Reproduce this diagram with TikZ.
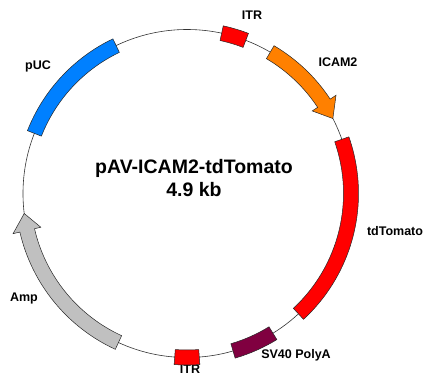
\documentclass[tikz,border=0pt]{standalone}
\usepackage{fontspec}
\setmainfont{Liberation Sans}
\usetikzlibrary{positioning, calc}
\definecolor{itrred}{HTML}{FF0000}
\definecolor{icamorange}{HTML}{FF8000}
\definecolor{tomatored}{HTML}{FF0000}
\definecolor{polyapurple}{HTML}{800040}
\definecolor{pucblue}{HTML}{0080FF}
\definecolor{ampgray}{HTML}{C0C0C0}

% radii of the map (in bp)
\newcommand{\rmid}{164}
\newcommand{\rin}{156.5}
\newcommand{\rout}{171.5}
\newcommand{\rhin}{150}
\newcommand{\rhout}{178.5}

% plain band: colour, start angle, end angle
\newcommand{\featbox}[3]{%
  \filldraw[feature, fill=#1] (#2:\rin) arc[start angle=#2, end angle=#3, radius=\rin]
    -- (#3:\rout) arc[start angle=#3, end angle=#2, radius=\rout] -- cycle;}
% arrow band: colour, start angle, tip angle, head length (deg)
\newcommand{\featarrow}[4]{%
  \filldraw[feature, fill=#1] (#2:\rin) arc[start angle=#2, end angle={#3+#4}, radius=\rin]
    -- ({#3+#4}:\rhin) -- (#3:\rmid) -- ({#3+#4}:\rhout) -- ({#3+#4}:\rout)
    arc[start angle={#3+#4}, end angle=#2, radius=\rout] -- cycle;}

\begin{document}
\begin{tikzpicture}[
    x=1bp, y=1bp,
    every node/.style={font=\bfseries\fontsize{12.5bp}{14bp}\selectfont},
    title/.style={font=\bfseries\fontsize{19.5bp}{23bp}\selectfont, align=center},
    feature/.style={draw=black!85, line width=0.5pt},
    backbone/.style={draw=black!80, line width=0.6pt},
  ]
  \useasboundingbox (-187,-190.5) rectangle (247,193.5);

  % backbone
  \draw[backbone] (0,0) circle[radius=\rmid];

  % labels
  \node (itrtop) at (65,178.5) {ITR};
  \node (icam) at (151,131.5) {ICAM2};
  \node (tomato) at (208,-37.5) {tdTomato};
  \node (polya) at (109,-161.5) {SV40 PolyA};
  \node (itrbot) at (3,-175.5) {ITR};
  \node (amp) at (-163,-104.5) {Amp};
  \node (puc) at (-149,127.5) {pUC};
  \node[title] (name) at (7,15) {pAV-ICAM2-tdTomato\\4.9 kb};

  % features
  \featbox{itrred}{69}{77.8}
  \featarrow{icamorange}{59.5}{27.2}{6.2}
  \featbox{tomatored}{19.3}{-47.2}
  \featbox{polyapurple}{-58.4}{-73.7}
  \featbox{itrred}{-94.3}{-85.7}
  \featarrow{ampgray}{245.3}{187}{6}
  \featbox{pucblue}{115.6}{158.5}
\end{tikzpicture}
\end{document}
